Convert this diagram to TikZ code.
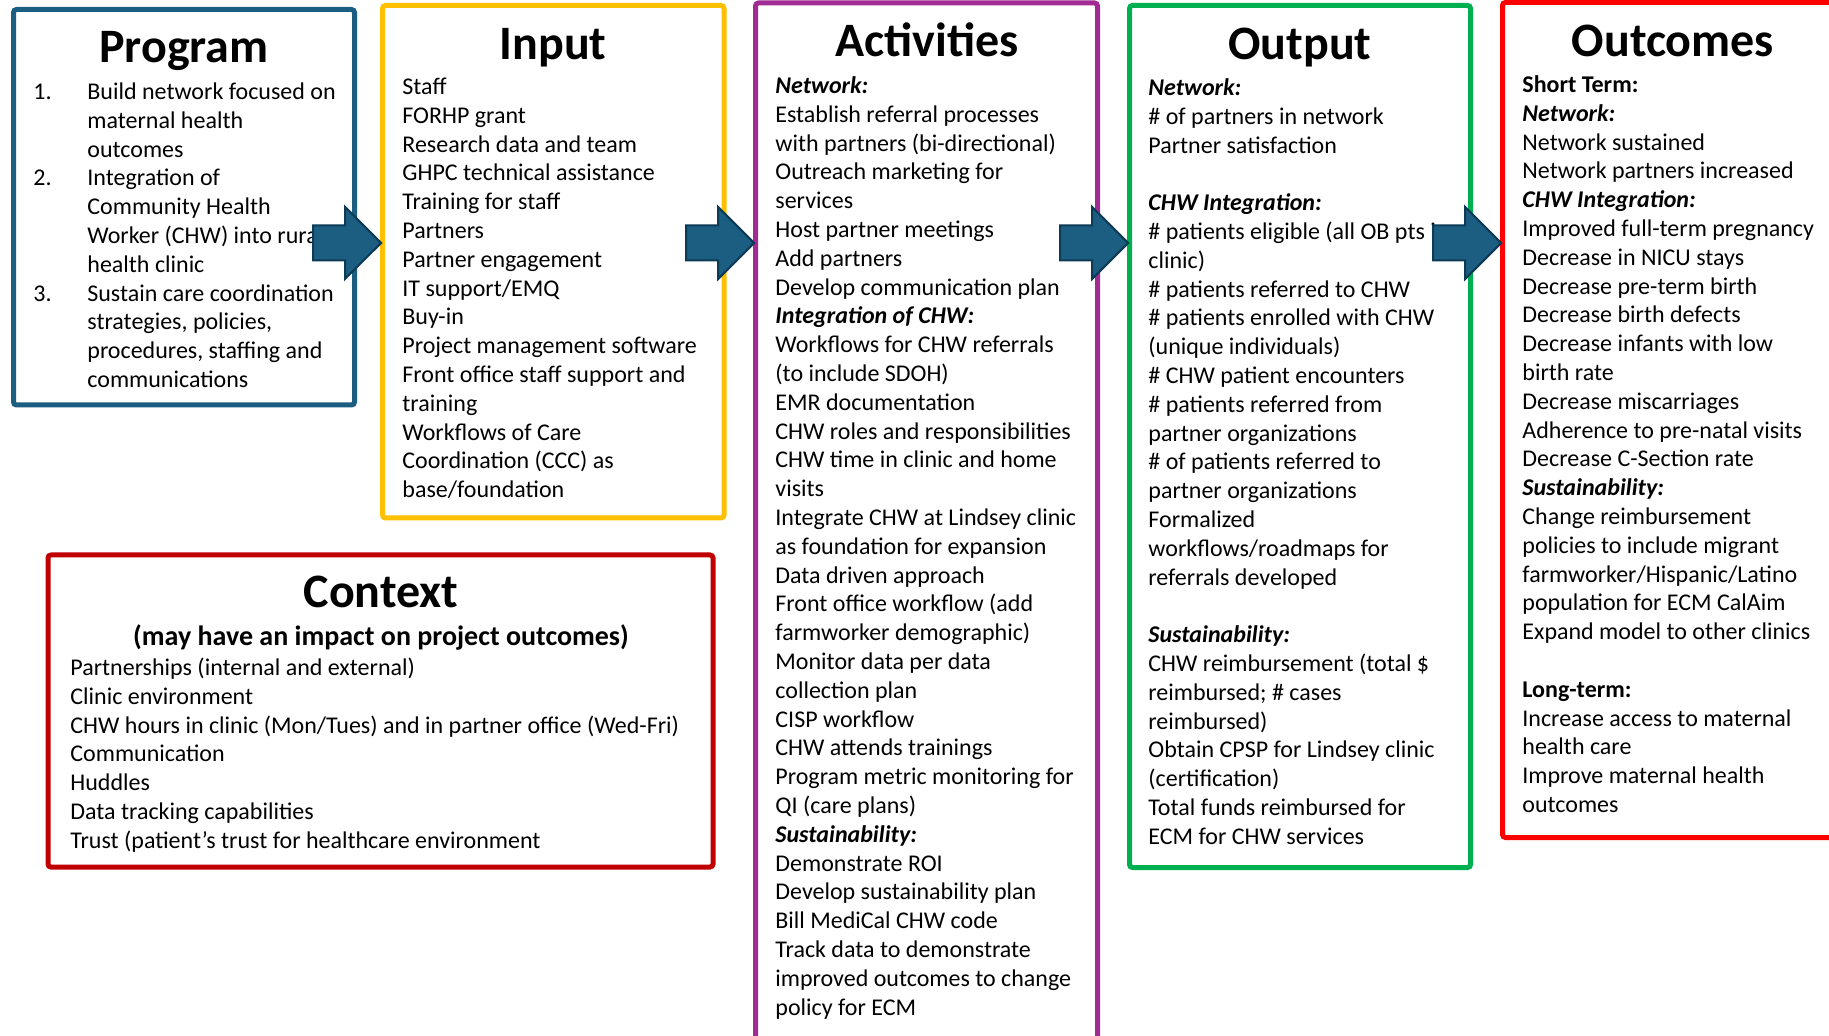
\documentclass[tikz,border=0pt]{standalone}
\usepackage{fontspec}
\setmainfont{Carlito}
\usetikzlibrary{shapes.arrows,fit}
\definecolor{progblue}{HTML}{1B5E82}
\definecolor{arrowedge}{HTML}{0D3A55}
\definecolor{inputgold}{HTML}{FFC000}
\definecolor{actpurple}{HTML}{A02B93}
\definecolor{outgreen}{HTML}{00B050}
\definecolor{outcred}{HTML}{FF0000}
\definecolor{ctxred}{HTML}{C00000}
\newcommand{\subhead}[1]{\textbf{\textit{#1}}}
\tikzset{
  logicbox/.style={draw=#1, line width=2.5pt, rounded corners=1.5pt, inner sep=0pt},
  boxtitle/.style={font=\fontsize{24}{28.8}\selectfont\bfseries, inner sep=0pt, anchor=base},
  boxtext/.style={font=\fontsize{12}{14.4}\selectfont, align=left, inner sep=0pt, anchor=north west},
  blockarrow/.style={single arrow, draw=arrowedge, fill=progblue, line width=1pt,
    inner xsep=0pt, inner ysep=8.25pt, minimum height=34pt, minimum width=35pt,
    single arrow head extend=9.25pt, anchor=tip},
}
\begin{document}
\begin{tikzpicture}[x=0.5pt, y=-0.5pt]
  \useasboundingbox (0,0) rectangle (1829,1036);
  \clip (0,0) rectangle (1829,1036);
  \fill[white] (0,0) rectangle (1829,1036);
  % frames
  \node[logicbox=progblue, fit={(13.5,9.5) (354.5,405)}] (prog) {};
  \node[logicbox=inputgold, fit={(382.5,5.5) (724,518)}] (inp) {};
  \node[logicbox=actpurple, fit={(755.5,3) (1097.5,1060)}] (act) {};
  \node[logicbox=outgreen, fit={(1129.5,5.5) (1470.5,867.5)}] (outp) {};
  \node[logicbox=outcred, fit={(1502.5,2.5) (1845,837.5)}] (outc) {};
  \node[logicbox=ctxred, fit={(48,555) (713,867)}] (ctx) {};
  % titles
  \node[boxtitle] (progtitle) at (184,63) {Program};
  \node[boxtitle] (inptitle) at (553,60) {Input};
  \node[boxtitle] (acttitle) at (927,57) {Activities};
  \node[boxtitle] (outptitle) at (1300,60) {Output};
  \node[boxtitle] (outctitle) at (1673,57) {Outcomes};
  \node[boxtitle] (ctxtitle) at (381,608) {Context};
  \node[font=\fontsize{14}{16.8}\selectfont\bfseries, inner sep=0pt, anchor=base] (ctxsub) at (381,646)
    {(may have an impact on project outcomes)};
  % texts
  \node[boxtext] (progtext) at (33,79) {\strut\makebox[27pt][l]{1.}Build network focused on\\
    \hspace*{27pt}maternal health\\
    \hspace*{27pt}outcomes\\
    \makebox[27pt][l]{2.}Integration of\\
    \hspace*{27pt}Community Health\\
    \hspace*{27pt}Worker (CHW) into rural\\
    \hspace*{27pt}health clinic\\
    \makebox[27pt][l]{3.}Sustain care coordination\\
    \hspace*{27pt}strategies, policies,\\
    \hspace*{27pt}procedures, staffing and\\
    \hspace*{27pt}communications};
  \node[boxtext] (inptext) at (402,74) {\strut Staff\\
    FORHP grant\\
    Research data and team\\
    GHPC technical assistance\\
    Training for staff\\
    Partners\\
    Partner engagement\\
    IT support/EMQ\\
    Buy-in\\
    Project management software\\
    Front office staff support and\\
    training\\
    Workflows of Care\\
    Coordination (CCC) as\\
    base/foundation};
  \node[boxtext] (acttext) at (775,73) {\strut\subhead{Network:}\\
    Establish referral processes\\
    with partners (bi-directional)\\
    Outreach marketing for\\
    services\\
    Host partner meetings\\
    Add partners\\
    Develop communication plan\\
    \subhead{Integration of CHW:}\\
    Workflows for CHW referrals\\
    (to include SDOH)\\
    EMR documentation\\
    CHW roles and responsibilities\\
    CHW time in clinic and home\\
    visits\\
    Integrate CHW at Lindsey clinic\\
    as foundation for expansion\\
    Data driven approach\\
    Front office workflow (add\\
    farmworker demographic)\\
    Monitor data per data\\
    collection plan\\
    CISP workflow\\
    CHW attends trainings\\
    Program metric monitoring for\\
    QI (care plans)\\
    \subhead{Sustainability:}\\
    Demonstrate ROI\\
    Develop sustainability plan\\
    Bill MediCal CHW code\\
    Track data to demonstrate\\
    improved outcomes to change\\
    policy for ECM};
  \node[boxtext] (outptext) at (1148,75) {\strut\subhead{Network:}\\
    \# of partners in network\\
    Partner satisfaction\\[14.4pt]
    \subhead{CHW Integration:}\\
    \# patients eligible (all OB pts in\\
    clinic)\\
    \# patients referred to CHW\\
    \# patients enrolled with CHW\\
    (unique individuals)\\
    \# CHW patient encounters\\
    \# patients referred from\\
    partner organizations\\
    \# of patients referred to\\
    partner organizations\\
    Formalized\\
    workflows/roadmaps for\\
    referrals developed\\[14.4pt]
    \subhead{Sustainability:}\\
    CHW reimbursement (total \$\\
    reimbursed; \# cases\\
    reimbursed)\\
    Obtain CPSP for Lindsey clinic\\
    (certification)\\
    Total funds reimbursed for\\
    ECM for CHW services};
  \node[boxtext] (outctext) at (1522,72) {\strut\textbf{Short Term:}\\
    \subhead{Network:}\\
    Network sustained\\
    Network partners increased\\
    \subhead{CHW Integration:}\\
    Improved full-term pregnancy\\
    Decrease in NICU stays\\
    Decrease pre-term birth\\
    Decrease birth defects\\
    Decrease infants with low\\
    birth rate\\
    Decrease miscarriages\\
    Adherence to pre-natal visits\\
    Decrease C-Section rate\\
    \subhead{Sustainability:}\\
    Change reimbursement\\
    policies to include migrant\\
    farmworker/Hispanic/Latino\\
    population for ECM CalAim\\
    Expand model to other clinics\\[14.4pt]
    \textbf{Long-term:}\\
    Increase access to maternal\\
    health care\\
    Improve maternal health\\
    outcomes};
  \node[boxtext] (ctxtext) at (70,655) {\strut Partnerships (internal and external)\\
    Clinic environment\\
    CHW hours in clinic (Mon/Tues) and in partner office (Wed-Fri)\\
    Communication\\
    Huddles\\
    Data tracking capabilities\\
    Trust (patient’s trust for healthcare environment};
  % arrows
  \coordinate (row) at (0,243);
  \node[blockarrow, xshift=1.25pt] (arr1) at (inp.west |- row) {};
  \node[blockarrow, xshift=1.25pt] (arr2) at (act.west |- row) {};
  \node[blockarrow, xshift=1.25pt] (arr3) at (outp.west |- row) {};
  \node[blockarrow, xshift=1.25pt] (arr4) at (outc.west |- row) {};
\end{tikzpicture}
\end{document}
